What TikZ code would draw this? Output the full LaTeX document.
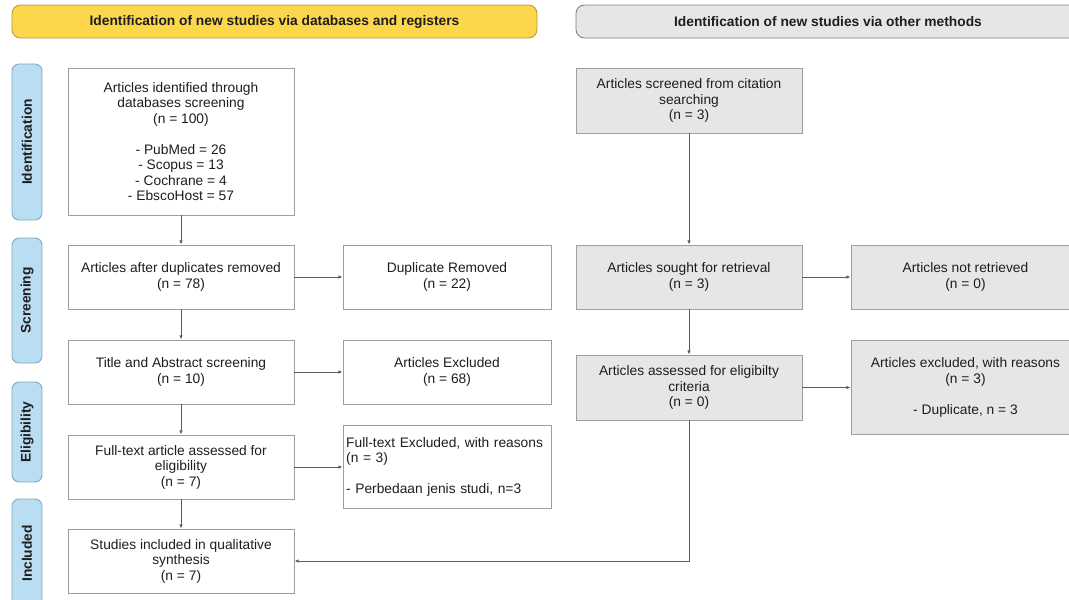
\documentclass[tikz,border=0pt]{standalone}
\usepackage{fontspec}
\setmainfont{Liberation Sans}
\usepackage{tikz}
\usetikzlibrary{arrows.meta}
\definecolor{tinta}{HTML}{1E1E1E}
\definecolor{linea}{HTML}{5C5C5C}
\definecolor{borde}{HTML}{9E9E9E}
\definecolor{gris}{HTML}{E6E6E6}
\definecolor{amarillo}{HTML}{FDD74B}
\definecolor{oro}{HTML}{B39A3A}
\definecolor{celeste}{HTML}{B9DDF2}
\definecolor{azulBorde}{HTML}{7FA6C0}

\begin{document}
\begin{tikzpicture}[
    box/.style={draw=borde,fill=white,line width=0.6pt,minimum width=5.65cm,
                minimum height=1.6cm,align=center,inner sep=2pt,
                font=\fontsize{9.8}{11}\selectfont\color{tinta}},
    gbox/.style={box,fill=gris},
    fase/.style={draw=azulBorde,fill=celeste,line width=0.6pt,rounded corners=5pt,
                 rotate=90,minimum height=0.75cm,
                 font=\fontsize{9.8}{11}\selectfont\bfseries\color{tinta}},
    cab/.style={line width=0.6pt,rounded corners=6pt,minimum height=0.825cm,
                font=\fontsize{9.8}{11}\selectfont\bfseries\color{tinta}},
    >={Latex[length=3pt,width=2.5pt]}]
  \clip (0,0) rectangle (26.725,-14.975);

  % headers
  \node[cab,draw=oro,fill=amarillo,minimum width=13.125cm] (cabA) at (6.8625,-0.5375)
    {Identification of new studies via databases and registers};
  \node[cab,draw=borde!80!black,fill=gris,minimum width=12.6cm] (cabB) at (20.7,-0.5375)
    {Identification of new studies via other methods};

  % phases
  \node[fase,minimum width=3.9cm]   (fId)  at (0.675,-3.55)    {Identification};
  \node[fase,minimum width=3.125cm] (fScr) at (0.675,-7.5125)  {Screening};
  \node[fase,minimum width=2.5cm]   (fEl)  at (0.675,-10.8)    {Eligibility};
  \node[fase,minimum width=2.725cm] (fInc) at (0.675,-13.8375) {Included};

  % databases
  \node[box,minimum height=3.675cm] (ident) at (4.525,-3.5375)
    {Articles identified through\\databases screening\\(n = 100)\\[11pt]
     - PubMed = 26\\- Scopus = 13\\- Cochrane = 4\\- EbscoHost = 57};
  \node[box] (dedup) at (4.525,-6.925) {Articles after duplicates removed\\(n = 78)};
  \node[box] (titab) at (4.525,-9.3)   {Title and Abstract screening\\(n = 10)};
  \node[box] (full)  at (4.525,-11.675) {Full-text article assessed for\\eligibility\\(n = 7)};
  \node[box] (incl)  at (4.525,-14.025) {Studies included in qualitative\\synthesis\\(n = 7)};

  \node[box,minimum width=5.2cm] (dupr) at (11.175,-6.925) {Duplicate Removed\\(n = 22)};
  \node[box,minimum width=5.2cm] (excl) at (11.175,-9.3)   {Articles Excluded\\(n = 68)};
  \node[box,align=left,minimum width=5.2cm,text width=5.04cm,inner xsep=0.08cm,
        minimum height=2.075cm] (ftex) at (11.175,-11.675)
    {Full-text Excluded, with reasons\\(n = 3)\\[11pt]- Perbedaan jenis studi, n=3};

  % other methods
  \node[gbox,minimum height=1.625cm] (cita) at (17.225,-2.5125)
    {Articles screened from citation\\searching\\(n = 3)};
  \node[gbox] (sought) at (17.225,-6.925) {Articles sought for retrieval\\(n = 3)};
  \node[gbox,minimum height=1.625cm] (asses) at (17.225,-9.6875)
    {Articles assessed for eligibilty\\criteria\\(n = 0)};
  \node[gbox,minimum width=5.725cm] (noret) at (24.1375,-6.925)
    {Articles not retrieved\\(n = 0)};
  \node[gbox,minimum width=5.725cm,minimum height=2.35cm] (exres) at (24.1375,-9.6875)
    {Articles excluded, with reasons\\(n = 3)\\[11pt]- Duplicate, n = 3};

  % connectors
  \foreach \a/\b in {ident/dedup,dedup/titab,titab/full,full/incl,
                     dedup/dupr,titab/excl,full/ftex,
                     cita/sought,sought/asses,sought/noret,asses/exres}{
    \draw[->,linea,line width=0.6pt] (\a) -- (\b);
  }
  \draw[->,linea,line width=0.6pt] (asses.south) |- (incl.east);
\end{tikzpicture}
\end{document}
